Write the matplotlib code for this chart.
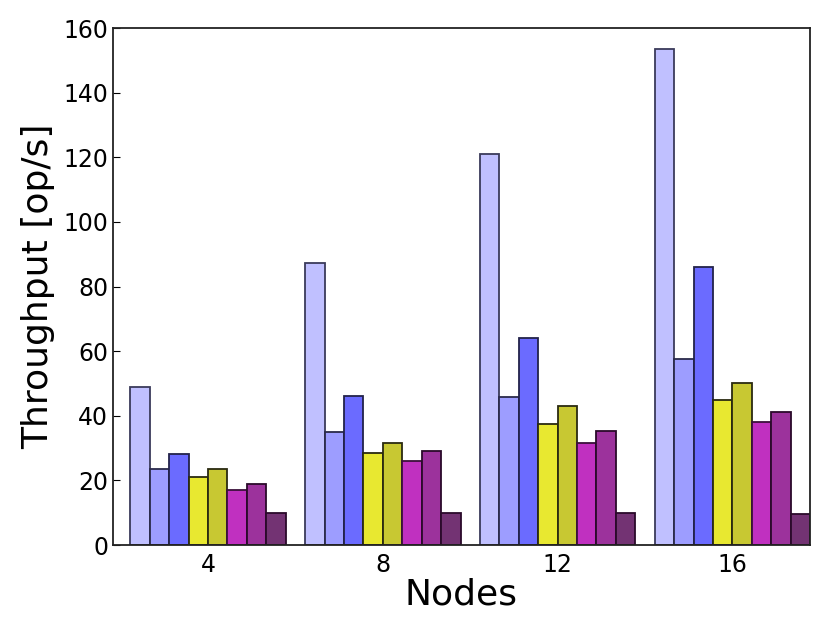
import numpy as np
import matplotlib
matplotlib.use('Agg')
import matplotlib.pyplot as plt

nodes = ['4', '8', '12', '16']
# one list per series, values per node count
s1 = [49.0, 87.2, 121.0, 153.5]
s2 = [23.6, 35.0, 45.9, 57.5]
s3 = [28.1, 46.2, 64.2, 86.0]
s4 = [21.0, 28.6, 37.5, 44.8]
s5 = [23.7, 31.5, 42.9, 50.2]
s6 = [17.1, 25.9, 31.5, 38.1]
s7 = [19.0, 29.0, 35.4, 41.3]
s8 = [9.8, 9.8, 9.8, 9.7]
series = [s1, s2, s3, s4, s5, s6, s7, s8]
colors = ['#c0c0ff', '#9d9dff', '#6b6bff', '#e8e830',
          '#c8c832', '#c030c0', '#9c329c', '#733373']
edges = ['#3a3a5a', '#2a2a4a', '#22224a', '#2a2a10',
         '#2a2a10', '#3a103a', '#2a0a2a', '#2a0a2a']

fig = plt.figure(figsize=(8.3, 6.23), dpi=100)
ax = fig.add_axes([0.136, 0.125, 0.840, 0.830])

w = 1.0 / 9
x = np.arange(len(nodes))
for j, vals in enumerate(series):
    ax.bar(x + j * w, vals, width=w, align='edge', color=colors[j],
           edgecolor=edges[j], linewidth=1.3)

ax.set_xlim(-0.1, 3 + 8 * w)
ax.set_ylim(0, 160)
ax.set_xticks(x + 4 * w)
ax.set_xticklabels(nodes)
ax.set_yticks(range(0, 161, 20))
ax.tick_params(axis='x', length=0, labelsize=17, pad=6)
ax.tick_params(axis='y', direction='in', length=5, labelsize=17, right=False)
for sp in ax.spines.values():
    sp.set_linewidth(1.3)
    sp.set_color('#222222')
ax.set_xlabel('Nodes', fontsize=26, labelpad=0)
ax.set_ylabel('Throughput [op/s]', fontsize=26, labelpad=6)

fig.savefig('out.png', dpi=100)
